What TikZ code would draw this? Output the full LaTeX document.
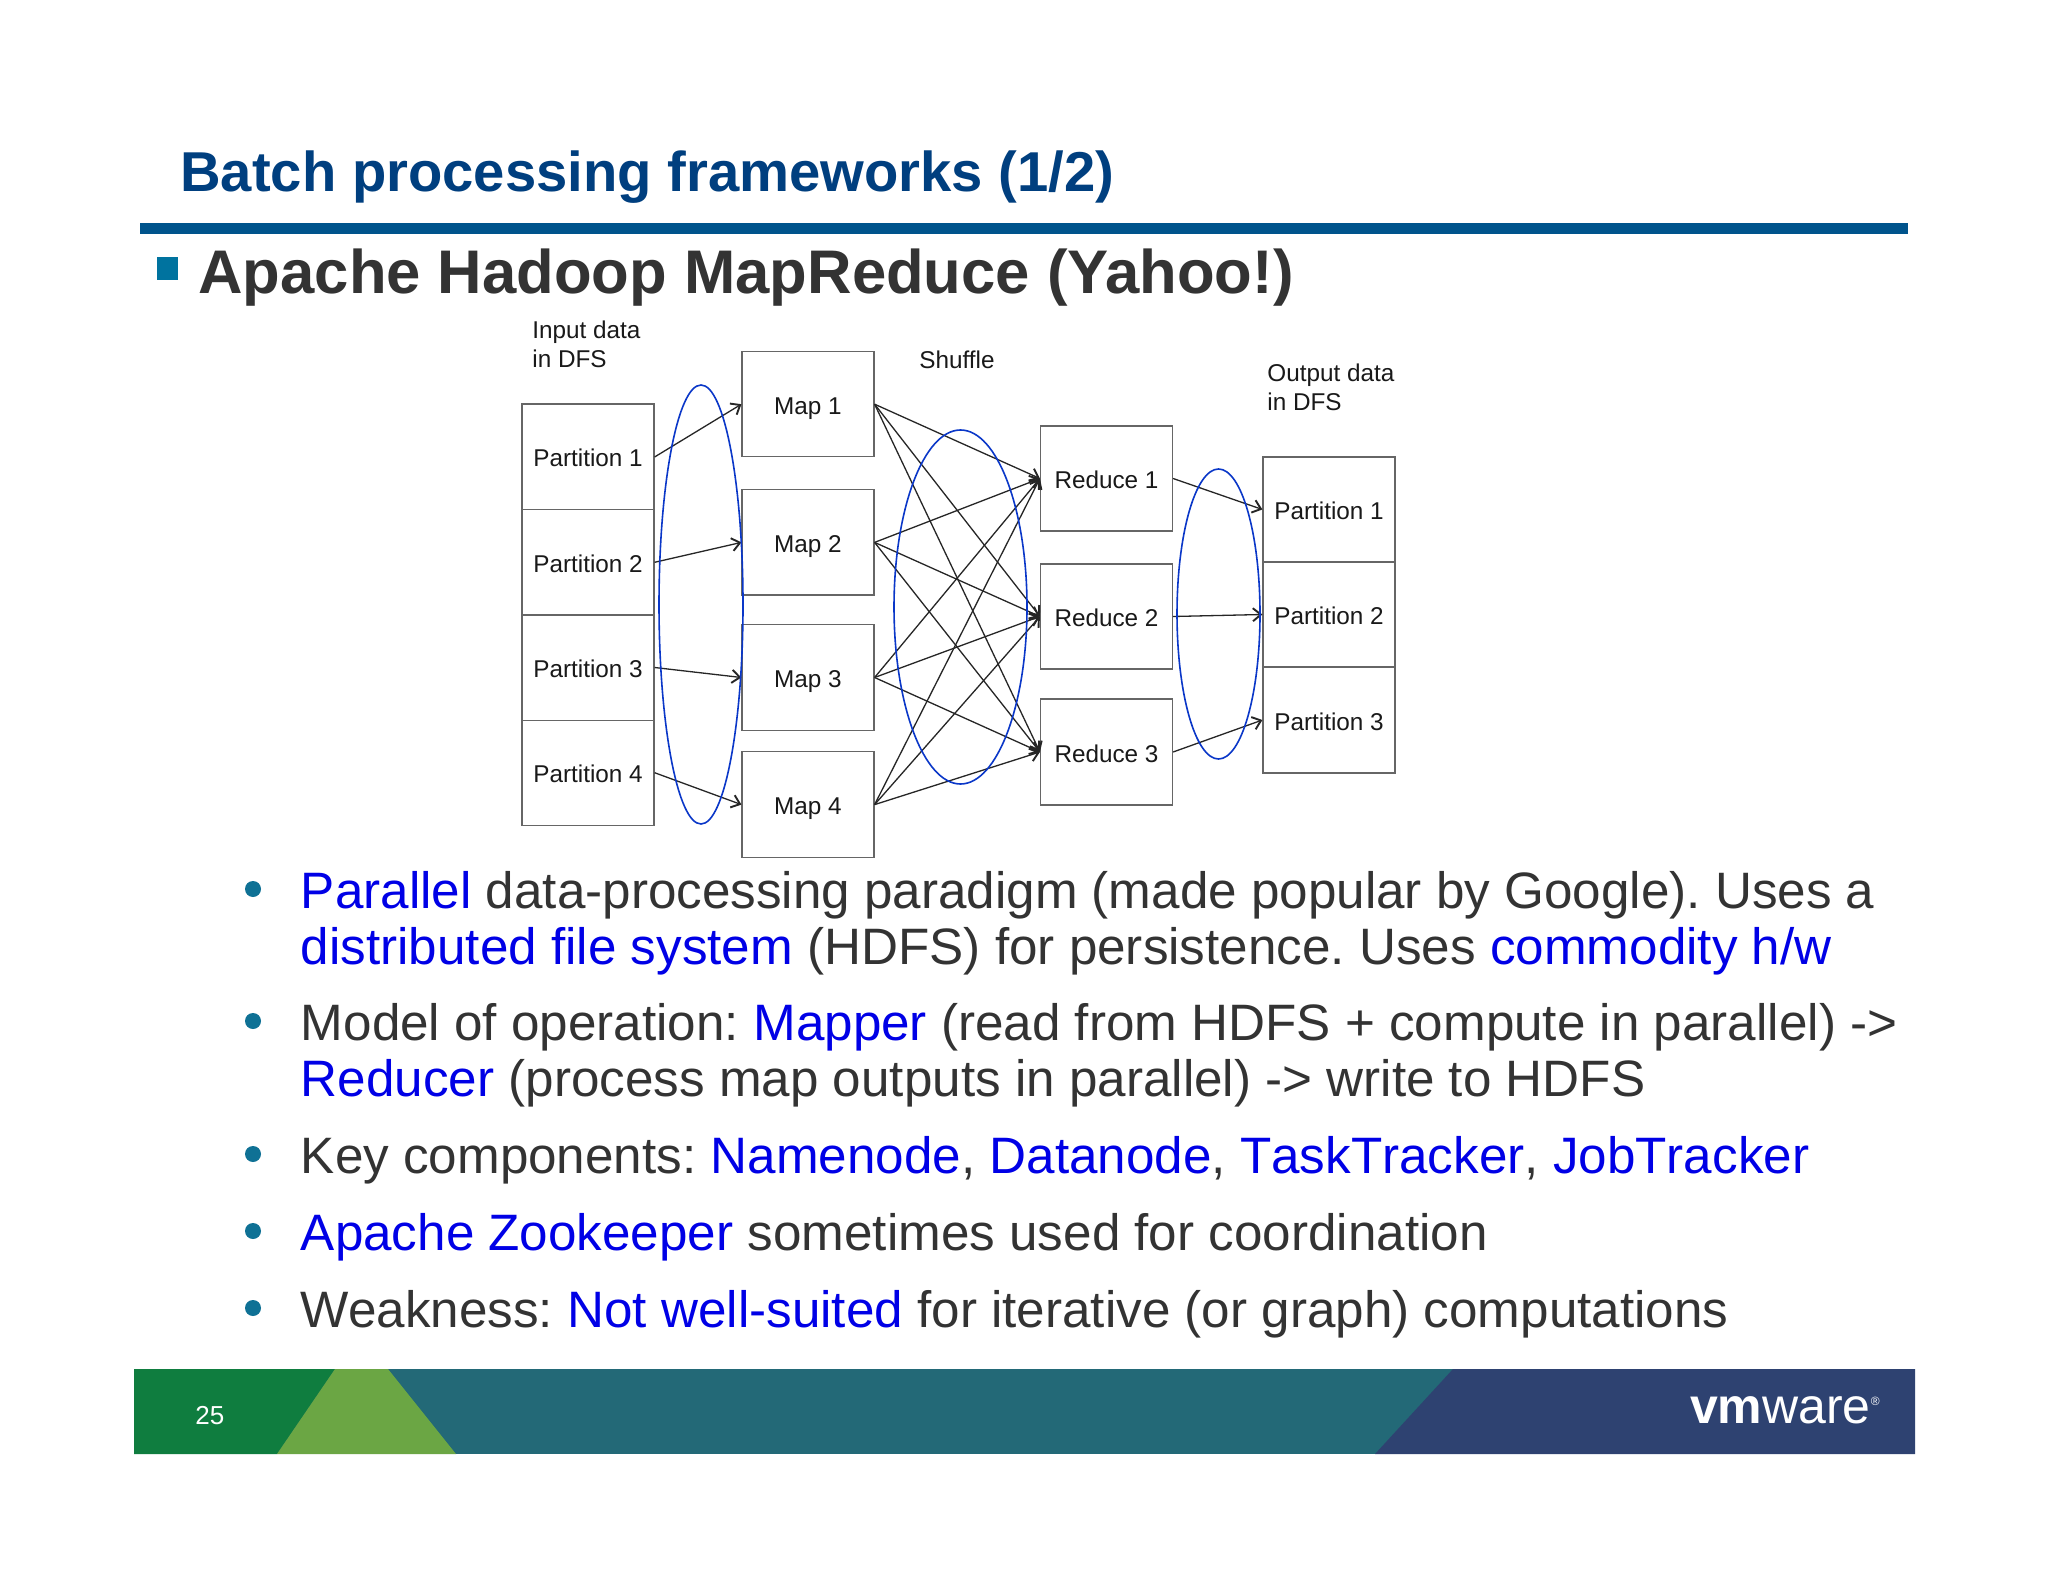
\documentclass[tikz,border=0pt]{standalone}
\usepackage{fontspec}
\setmainfont{Liberation Sans}
\usetikzlibrary{arrows.meta,shapes.geometric}
\definecolor{titleblue}{HTML}{003F7F}
\definecolor{rulecol}{HTML}{00548C}
\definecolor{sqcol}{HTML}{00739F}
\definecolor{bulcol}{HTML}{0F7195}
\definecolor{bodygrey}{HTML}{333333}
\definecolor{hl}{HTML}{0000E6}
\definecolor{elblue}{HTML}{0A37C8}
\definecolor{fgreen}{HTML}{0F7D3F}
\definecolor{lgreen}{HTML}{6BA644}
\definecolor{fteal}{HTML}{236977}
\definecolor{fnavy}{HTML}{2E4271}
\newcommand{\hi}[1]{\textcolor{hl}{#1}}
\newcommand{\hink}[1]{\textcolor{hl}{\addfontfeatures{Kerning=Off}#1}}
\tikzset{
  x=0.5pt,y=-0.5pt,
  boxnode/.style={draw=black!60,line width=0.6pt,fill=white,inner sep=0pt,minimum width=66pt,text height=12pt,text depth=2pt,font=\fontsize{12.15}{14}\selectfont,text=black!90},
  lbl/.style={inner sep=0pt,anchor=base west,align=left,font=\fontsize{12.15}{14.6}\selectfont,text=black!90},
  bodyline/.style={inner sep=0pt,anchor=base west,align=left,text=bodygrey,font=\frenchspacing\fontsize{25.6}{28}\selectfont},
  dotb/.style={circle,fill=bulcol,inner sep=0pt,minimum size=8pt},
  flow/.style={draw=black!85,line width=0.65pt,-{Straight Barb[length=4pt,width=6.5pt,line width=0.95pt]}},
  oval/.style={draw=elblue,line width=0.8pt,fill=none,ellipse,inner sep=0pt},
}
\begin{document}
\begin{tikzpicture}
\useasboundingbox (0,0) rectangle (2048,1582);
\fill[white] (0,0) rectangle (2048,1582);
% header
\node[inner sep=0pt,anchor=base west,text=titleblue,font=\fontsize{28.1}{30}\bfseries\selectfont] (title) at (180,192) {Batch processing frameworks (1/2)};
\fill[rulecol] (140,223) rectangle (1908,234);
\fill[sqcol] (157,257) rectangle (178,280);
\node[inner sep=0pt,anchor=base west,text=bodygrey,font=\fontsize{30.8}{34}\bfseries\selectfont] (head) at (198,294) {Apache Hadoop MapReduce (Yahoo!)};
% input partitions
\foreach \k/\c/\h in {1/457/52.9,2/562.3/52.6,3/667.5/52.6,4/772.7/52.4}{
  \node[boxnode,minimum height=\h pt] (ip\k) at (588,\c) {Partition \k};
}
% maps
\foreach \k/\c/\h in {1/404.2/52.4,2/542.4/52.6,3/677.5/53,4/804.6/52.9}{
  \node[boxnode,minimum height=\h pt] (m\k) at (808,\c) {Map \k};
}
% reducers
\foreach \k/\c/\h in {1/478.5/52.5,2/616.5/52.5,3/752/53}{
  \node[boxnode,minimum height=\h pt] (r\k) at (1106.5,\c) {Reduce \k};
}
% output partitions
\foreach \k/\c/\h in {1/509.5/52.5,2/614.5/52.5,3/720/53}{
  \node[boxnode,minimum height=\h pt] (op\k) at (1329,\c) {Partition \k};
}
% labels
\node[lbl] (linput) at (532,367.5) {Input data\\in DFS};
\node[lbl] (lshuffle) at (919,369) {Shuffle};
\node[lbl] (loutput) at (1267,410.5) {Output data\\in DFS};
% connectors
\foreach \k in {1,2,3,4}{\draw[flow] (ip\k.east) -- (m\k.west);}
\foreach \m in {1,2,3,4}{\foreach \r in {1,2,3}{\draw[flow] (m\m.east) -- (r\r.west);}}
\foreach \k in {1,2,3}{\draw[flow] (r\k.east) -- (op\k.west);}
% ovals
\node[oval,minimum width=42pt,minimum height=219.5pt] (e1) at (701,604.5) {};
\node[oval,minimum width=66.5pt,minimum height=177pt] (e2) at (960.5,607) {};
\node[oval,minimum width=41.5pt,minimum height=145pt] (e3) at (1218.5,614) {};
% bullets
\node[dotb] (b1) at (253,889) {};
\node[dotb] (b2) at (253,1021) {};
\node[dotb] (b3) at (253,1154) {};
\node[dotb] (b4) at (253,1231) {};
\node[dotb] (b5) at (253,1308) {};
\node[bodyline] (t1) at (300.5,964) {\hi{Parallel} data-processing paradigm (made popular by Google). Uses a\\\hi{distributed file system} (HDFS) for persistence. Uses \hi{commodity h/w}};
\node[bodyline] (t2) at (300.5,1096) {Model of operation: \hi{Mapper} (read from HDFS + compute in parallel) ->\\\hi{Reducer} (process map outputs in parallel) -> write to HDFS};
\node[bodyline] (t3) at (300.5,1173) {Key components: \hi{Namenode}, \hi{Datanode}, \hink{TaskTracker}, \hink{JobTracker}};
\node[bodyline] (t4) at (300.5,1250) {\hi{Apache Zookeeper} sometimes used for coordination};
\node[bodyline] (t5) at (300.5,1327) {Weakness: \hi{Not well-suited} for iterative (or graph) computations};
% footer
\fill[fteal] (134,1369) rectangle (1915,1454);
\fill[fgreen] (134,1369) -- (335,1369) -- (277,1454) -- (134,1454) -- cycle;
\fill[lgreen] (335,1369) -- (388,1369) -- (456,1454) -- (277,1454) -- cycle;
\fill[fnavy] (1453,1369) -- (1915,1369) -- (1915,1454) -- (1375,1454) -- cycle;
\node[inner sep=0pt,anchor=base west,text=white,font=\fontsize{13}{15}\selectfont] (page) at (195,1424) {25};
\node[inner sep=0pt,anchor=base east,text=white,font=\fontsize{25}{28}\selectfont] (logo) at (1880,1423) {\textbf{vm}ware\raisebox{9pt}{\fontsize{6}{7}\selectfont®}};
\end{tikzpicture}
\end{document}
